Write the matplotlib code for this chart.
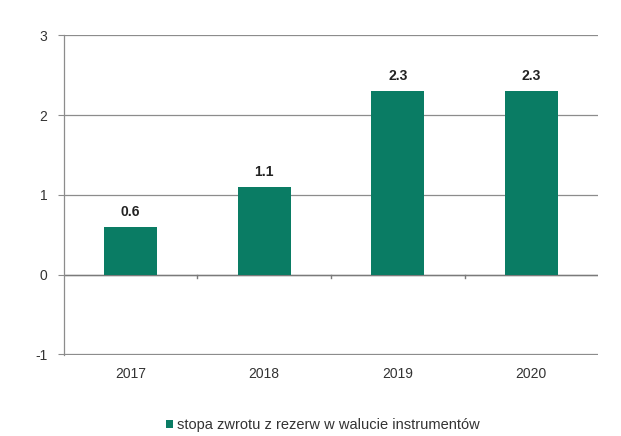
import matplotlib
matplotlib.use("Agg")
import matplotlib.pyplot as plt
import numpy as np

years = ["2017", "2018", "2019", "2020"]
values = [0.6, 1.1, 2.3, 2.3]
value_labels = ["0.6", "1.1", "2.3", "2.3"]
legend_label = "stopa zwrotu z rezerw w walucie instrumentów"

bar_color = "#0a7c64"
grid_color = "#8c8c8c"

plt.rcParams["font.family"] = ["Liberation Sans", "DejaVu Sans"]

fig = plt.figure(figsize=(6.21, 4.36), dpi=100)
ax = fig.add_axes([0.103, 0.186, 0.860, 0.734])

x = np.arange(len(years))
bars = ax.bar(x, values, width=0.4, color=bar_color, zorder=3,
              label=legend_label)

for xi, v, txt in zip(x, values, value_labels):
    ax.text(xi, v + 0.1, txt, ha="center", va="bottom",
            fontsize=10, fontweight="bold", color="#222222")

ax.set_xlim(-0.5, len(years) - 0.5)
ax.set_ylim(-1.006, 3.006)
ax.set_yticks([-1, 0, 1, 2, 3])
ax.set_yticklabels(["-1", "0", "1", "2", "3"])
ax.set_xticks(x)
ax.set_xticklabels(years)

ax.yaxis.grid(True, color=grid_color, linewidth=0.9, zorder=0)
ax.set_axisbelow(True)
for side in ["top", "right", "bottom"]:
    ax.spines[side].set_visible(False)
ax.spines["left"].set_color(grid_color)
ax.spines["left"].set_linewidth(0.9)

# zero line with small ticks between categories
ax.axhline(0, color="#7a7a7a", linewidth=1.0, zorder=2)
for b in np.arange(0.5, len(years) - 0.5, 1.0):
    ax.plot([b, b], [0, -0.04], color="#7a7a7a", linewidth=1.0, zorder=2,
            clip_on=False)

ax.tick_params(axis="y", length=4, color=grid_color, labelsize=10,
               labelcolor="#333333", pad=8)
ax.tick_params(axis="x", length=0, labelsize=10, labelcolor="#333333", pad=9)

fig.legend(handles=[bars], labels=[legend_label], loc="center",
           bbox_to_anchor=(0.52, 0.025), frameon=False, fontsize=10.5,
           handlelength=0.5, handleheight=0.5, handletextpad=0.3,
           labelcolor="#333333")

fig.savefig("out.png", dpi=100)
